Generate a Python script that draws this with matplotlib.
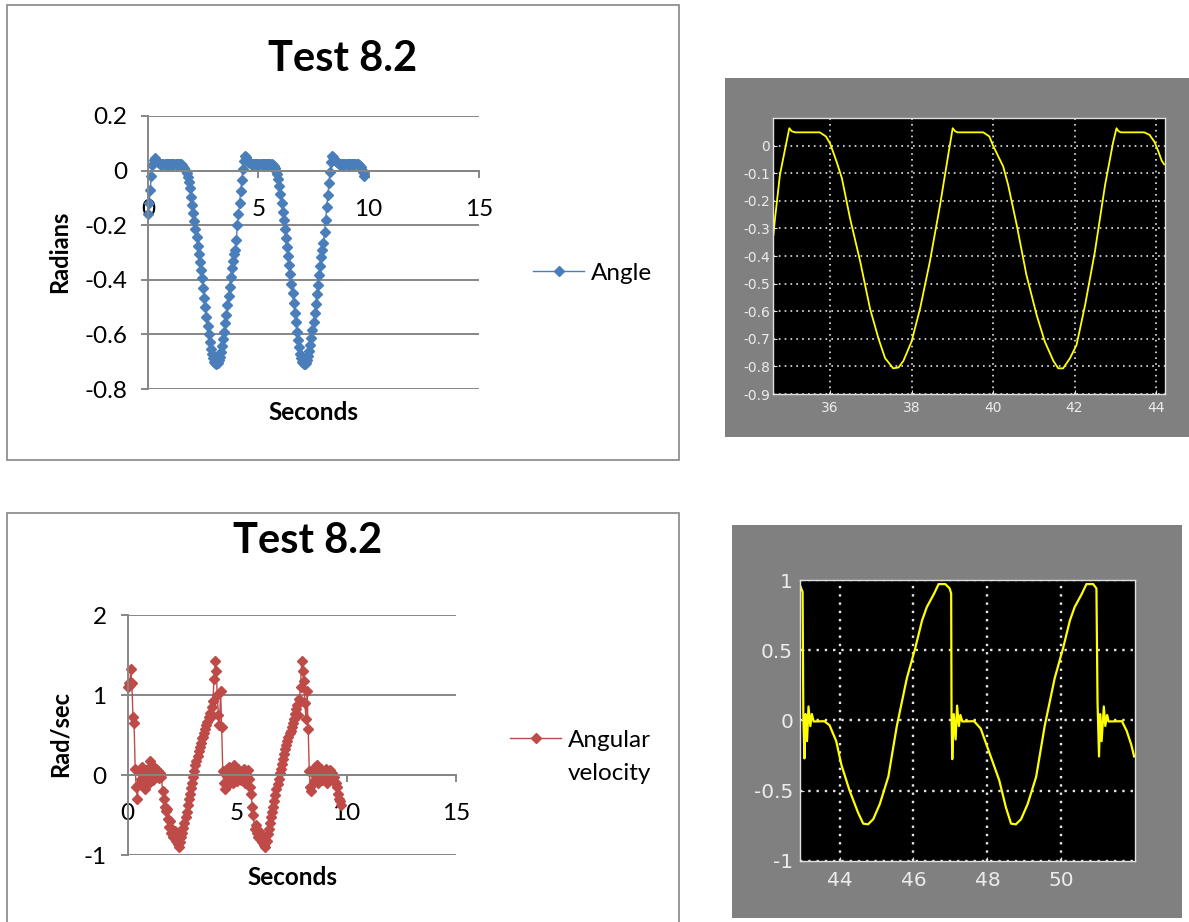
import matplotlib
matplotlib.use('Agg')
import matplotlib.pyplot as plt
import numpy as np
from matplotlib.patches import Rectangle

plt.rcParams['font.family'] = 'Lato'
plt.rcParams['axes.unicode_minus'] = False

# ---- Excel chart 1: angle (sampled every 0.05 s) ----
angle = [
    -0.16, -0.12, -0.07, -0.02, 0.02, 0.04, 0.045, 0.04, 0.035, 0.03, 0.028, 0.026, 0.025, 0.026, 0.025, 0.024, 0.025, 0.026, 0.025, 0.024,
    0.025, 0.025, 0.026, 0.025, 0.024, 0.025, 0.026, 0.025, 0.025, 0.024, 0.023, 0.02, 0.015, 0.008, 0.0, -0.01, -0.022, -0.04, -0.065, -0.095,
    -0.125, -0.155, -0.185, -0.215, -0.245, -0.275, -0.305, -0.335, -0.365, -0.395, -0.43, -0.465, -0.5, -0.535, -0.57, -0.6, -0.628, -0.652, -0.672, -0.688,
    -0.70, -0.706, -0.708, -0.704, -0.695, -0.682, -0.665, -0.643, -0.618, -0.59, -0.56, -0.528, -0.494, -0.46, -0.425, -0.39, -0.355, -0.33, -0.305, -0.29,
    -0.255, -0.2, -0.16, -0.12, -0.075, -0.035, 0.005, 0.035, 0.052, 0.048, 0.038, 0.032, 0.028, 0.026, 0.025, 0.026, 0.025, 0.024, 0.025, 0.026,
    0.025, 0.024, 0.025, 0.026, 0.025, 0.025, 0.024, 0.025, 0.026, 0.025, 0.024, 0.025, 0.025, 0.022, 0.018, 0.01, 0.0, -0.012, -0.03, -0.055,
    -0.085, -0.118, -0.15, -0.182, -0.214, -0.246, -0.28, -0.312, -0.345, -0.38, -0.415, -0.45, -0.485, -0.52, -0.555, -0.59, -0.62, -0.647, -0.67, -0.688,
    -0.70, -0.707, -0.708, -0.703, -0.694, -0.68, -0.662, -0.64, -0.614, -0.585, -0.555, -0.522, -0.488, -0.453, -0.418, -0.383, -0.348, -0.315, -0.29, -0.265,
    -0.225, -0.18, -0.135, -0.09, -0.045, -0.005, 0.03, 0.052, 0.05, 0.042, 0.035, 0.03, 0.027, 0.025, 0.026, 0.025, 0.024, 0.025, 0.026, 0.025,
    0.025, 0.024, 0.025, 0.026, 0.025, 0.025, 0.024, 0.025, 0.026, 0.025, 0.024, 0.022, 0.018, 0.012, 0.004, -0.006, -0.02,
]

# ---- Excel chart 2: angular velocity (sampled every 0.05 s) ----
ang_vel = [
    1.1, 1.15, 1.12, 1.32, 1.15, 0.72, 0.65, 0.08, -0.15, -0.3, -0.12, 0.05, -0.05, 0.1, -0.08, 0.02, -0.18, 0.06, -0.05, 0.08,
    -0.1, 0.17, 0.02, -0.06, 0.1, -0.03, 0.07, 0.0, 0.05, -0.04, 0.03, -0.02, -0.2, -0.3, -0.4, -0.45, -0.42, -0.55, -0.65, -0.58,
    -0.72, -0.68, -0.78, -0.7, -0.82, -0.75, -0.86, -0.9, -0.84, -0.78, -0.72, -0.66, -0.6, -0.53, -0.46, -0.38, -0.3, -0.24, -0.16, -0.1,
    -0.02, 0.05, 0.12, 0.18, 0.24, 0.3, 0.35, 0.4, 0.46, 0.48, 0.52, 0.58, 0.62, 0.66, 0.72, 0.78, 0.72, 0.85, 0.92, 1.2,
    1.42, 1.3, 1.0, 0.75, 0.62, 1.05, 0.6, 0.05, -0.1, -0.18, 0.0, 0.08, -0.12, 0.1, -0.05, 0.04, -0.1, 0.12, -0.02, 0.06,
    -0.08, 0.07, -0.04, 0.05, -0.06, 0.03, 0.08, -0.1, 0.04, -0.03, 0.06, -0.05, -0.15, -0.24, -0.4, -0.5, -0.68, -0.62, -0.72, -0.78,
    -0.7, -0.8, -0.75, -0.84, -0.78, -0.88, -0.9, -0.82, -0.74, -0.68, -0.6, -0.53, -0.46, -0.4, -0.32, -0.25, -0.18, -0.11, -0.05, 0.02,
    0.08, 0.14, 0.2, 0.26, 0.32, 0.38, 0.43, 0.47, 0.52, 0.55, 0.6, 0.65, 0.7, 0.76, 0.82, 0.88, 0.75, 0.95, 1.1, 1.42,
    1.3, 1.18, 0.9, 0.7, 1.05, 0.58, 0.05, -0.15, -0.2, 0.02, -0.08, 0.1, -0.05, 0.12, -0.1, 0.05, -0.03, 0.08, -0.06, 0.04,
    -0.05, 0.07, -0.1, 0.05, 0.0, 0.06, -0.04, 0.03, -0.08, -0.02, -0.1, -0.15, -0.24, -0.3, -0.32, -0.38,
]
dt = 0.05
angle_t = np.arange(len(angle)) * dt
vel_t = np.arange(len(ang_vel)) * dt

excel_xticks = [0, 5, 10, 15]
angle_yticks = [0.2, 0, -0.2, -0.4, -0.6, -0.8]
vel_yticks = [2, 1, 0, -1]

# ---- Simulink scope 1: angle ----
scope1_t = [34.61, 34.65, 34.77, 34.90, 35.00, 35.06, 35.14, 35.75, 35.90, 36.00, 36.16, 36.29, 36.49, 36.74,
            36.98, 37.19, 37.35, 37.55, 37.68, 37.80, 38.00, 38.21, 38.45, 38.70, 38.90, 39.01, 39.07, 39.13,
            39.76, 39.91, 40.00, 40.25, 40.37, 40.58, 40.82, 41.07, 41.27, 41.48, 41.60, 41.72, 41.89, 42.05,
            42.26, 42.50, 42.75, 42.95, 43.03, 43.08, 43.14, 43.71, 43.84, 43.96, 44.06, 44.14, 44.20]
scope1_y = [-0.324, -0.263, -0.106, -0.01, 0.063, 0.052, 0.048, 0.048, 0.033, 0.008, -0.058, -0.118, -0.263, -0.42,
            -0.59, -0.70, -0.77, -0.807, -0.804, -0.78, -0.71, -0.59, -0.42, -0.215, -0.034, 0.063, 0.052, 0.048,
            0.048, 0.033, 0.0, -0.076, -0.142, -0.287, -0.469, -0.614, -0.71, -0.78, -0.807, -0.807, -0.77, -0.722,
            -0.577, -0.384, -0.142, 0.014, 0.063, 0.052, 0.048, 0.048, 0.039, 0.014, -0.022, -0.055, -0.068]
scope1_xticks = [36, 38, 40, 42, 44]
scope1_yticks = [0, -0.1, -0.2, -0.3, -0.4, -0.5, -0.6, -0.7, -0.8, -0.9]

# ---- Simulink scope 2: angular velocity ----
scope2_t = [42.95, 43.00, 43.02, 43.05, 43.08, 43.12, 43.16, 43.21, 43.25, 43.30, 43.59, 43.73, 43.91, 44.05,
            44.27, 44.50, 44.64, 44.77, 44.91, 45.09, 45.32, 45.55, 45.82, 46.05, 46.23, 46.36, 46.55, 46.68,
            46.86, 46.98, 47.02, 47.03, 47.05, 47.09, 47.14, 47.18, 47.23, 47.27, 47.32, 47.64, 47.82, 48.09,
            48.32, 48.50, 48.64, 48.77, 48.91, 49.09, 49.32, 49.55, 49.82, 50.05, 50.23, 50.36, 50.55, 50.68,
            50.86, 50.95, 50.98, 51.02, 51.05, 51.09, 51.15, 51.19, 51.24, 51.28, 51.64, 51.77, 51.89, 51.97]
scope2_y = [0.95, 0.915, 0.034, -0.27, 0.046, -0.147, 0.10, -0.04, 0.046, -0.007, -0.005, -0.034, -0.147, -0.316,
            -0.498, -0.655, -0.734, -0.739, -0.703, -0.594, -0.40, -0.039, 0.30, 0.517, 0.71, 0.807, 0.899, 0.971,
            0.971, 0.94, 0.903, 0.034, -0.275, 0.046, -0.135, 0.106, -0.039, 0.039, -0.007, -0.005, -0.058, -0.256,
            -0.425, -0.618, -0.734, -0.739, -0.703, -0.594, -0.40, -0.039, 0.30, 0.517, 0.71, 0.807, 0.899, 0.971,
            0.971, 0.94, 0.13, -0.256, 0.046, -0.147, 0.10, -0.039, 0.039, -0.007, -0.005, -0.075, -0.17, -0.256]
scope2_xticks = [44, 46, 48, 50]
scope2_yticks = [1, 0.5, 0, -0.5, -1]

W, H = 1189, 922
GRID = '#868686'
BLUE = '#4A7EBB'
RED = '#BE4B48'
SCOPE_BG = '#808080'


def frac(x0, y0, x1, y1):
    return [x0 / W, 1 - y1 / H, (x1 - x0) / W, (y1 - y0) / H]


def fig_rect(x0, y0, x1, y1, **kw):
    fig.add_artist(Rectangle((x0 / W, 1 - y1 / H), (x1 - x0) / W, (y1 - y0) / H,
                             transform=fig.transFigure, zorder=-5, **kw))


def fig_text(x, y, s, **kw):
    fig.text(x / W, 1 - y / H, s, **kw)


def excel_axes(box, ylim, yticks):
    ax = fig.add_axes(frac(*box))
    ax.set_facecolor('none')
    ax.set_xlim(0, 15)
    ax.set_ylim(*ylim)
    for s in ['top', 'right']:
        ax.spines[s].set_visible(False)
    ax.spines['bottom'].set_position(('data', 0))
    for s in ['left', 'bottom']:
        ax.spines[s].set_color(GRID)
        ax.spines[s].set_linewidth(1.4)
    ax.set_xticks(excel_xticks)
    ax.set_xticklabels([f'{v:g}' for v in excel_xticks])
    ax.set_yticks(yticks)
    ax.set_yticklabels([f'{v:g}' for v in yticks])
    ax.yaxis.grid(True, color=GRID, lw=1.4)
    ax.set_axisbelow(True)
    ax.tick_params(direction='out', length=5, width=1.4, color=GRID, labelsize=17.5)
    ax.tick_params(axis='x', pad=15.5)
    ax.tick_params(axis='y', pad=10)
    return ax


def scope_axes(box, xlim, ylim, xticks, yticks, size, xpad, ypad, grid_lw):
    ax = fig.add_axes(frac(*box))
    ax.set_facecolor('black')
    ax.set_xlim(*xlim)
    ax.set_ylim(*ylim)
    ax.set_xticks(xticks)
    ax.set_yticks(yticks)
    ax.set_yticklabels([f'{v:g}' for v in yticks])
    for s in ax.spines.values():
        s.set_color('#e0e0e0')
        s.set_linewidth(1.0)
    ax.grid(True, color='#e6e6e6', ls=(0, (1, 2.5)), lw=grid_lw)
    ax.tick_params(direction='in', length=3, color='#e0e0e0', labelcolor='#ececec',
                   labelsize=size, labelfontfamily='DejaVu Sans')
    ax.tick_params(axis='x', pad=xpad)
    ax.tick_params(axis='y', pad=ypad)
    return ax


fig = plt.figure(figsize=(W / 100, H / 100), dpi=100)

# chart frames and scope backgrounds
fig_rect(7, 5, 679, 460, fill=False, ec=GRID, lw=1.2)
fig_rect(7, 513, 679, 930, fill=False, ec=GRID, lw=1.2)
fig_rect(725, 78, 1192, 437, fc=SCOPE_BG, ec='none')
fig_rect(732, 525, 1182, 918, fc=SCOPE_BG, ec='none')

# Excel chart 1
ax1 = excel_axes((148, 116, 479, 389), (-0.8, 0.2), angle_yticks)
ax1.plot(angle_t, angle, color=BLUE, lw=1, marker='D', ms=4.8, mfc=BLUE, mec=BLUE,
         clip_on=False, label='Angle')
ax1.legend(loc='center left', bbox_to_anchor=(533 / W, 1 - 273 / H), bbox_transform=fig.transFigure,
           frameon=False, fontsize=17.5, handlelength=2.1, handletextpad=0.3, borderpad=0, borderaxespad=0)
fig_text(343, 71, 'Test 8.2', ha='center', va='baseline', fontsize=30, fontweight='bold')
fig_text(60, 252, 'Radians', ha='center', va='center', rotation=90, fontsize=17, fontweight='bold')
fig_text(313, 420, 'Seconds', ha='center', va='baseline', fontsize=17.5, fontweight='bold')

# Excel chart 2
ax3 = excel_axes((127.5, 615, 456, 855), (-1, 2), vel_yticks)
ax3.plot(vel_t, ang_vel, color=RED, lw=1, marker='D', ms=4.8, mfc=RED, mec=RED,
         clip_on=False, label='Angular')
ax3.legend(loc='center left', bbox_to_anchor=(510 / W, 1 - 740 / H), bbox_transform=fig.transFigure,
           frameon=False, fontsize=17.5, handlelength=2.1, handletextpad=0.3, borderpad=0, borderaxespad=0)
fig_text(568, 780, 'velocity', ha='left', va='baseline', fontsize=17.5)
fig_text(308, 553, 'Test 8.2', ha='center', va='baseline', fontsize=30, fontweight='bold')
fig_text(60, 734, 'Rad/sec', ha='center', va='center', rotation=90, fontsize=17, fontweight='bold')
fig_text(292, 885, 'Seconds', ha='center', va='baseline', fontsize=17.5, fontweight='bold')

# Simulink scope 1
ax2 = scope_axes((773, 118, 1165, 394), (34.6, 44.22), (-0.9, 0.1), scope1_xticks, scope1_yticks,
                 10, 5, 2, 1.2)
ax2.plot(scope1_t, scope1_y, color='#ffff00', lw=1.3)

# Simulink scope 2
ax4 = scope_axes((800, 580, 1134.5, 861), (42.93, 51.98), (-1, 1), scope2_xticks, scope2_yticks,
                 14.5, 7, 5, 1.7)
ax4.plot(scope2_t, scope2_y, color='#ffff00', lw=1.6)

fig.savefig('out.png', dpi=100)
